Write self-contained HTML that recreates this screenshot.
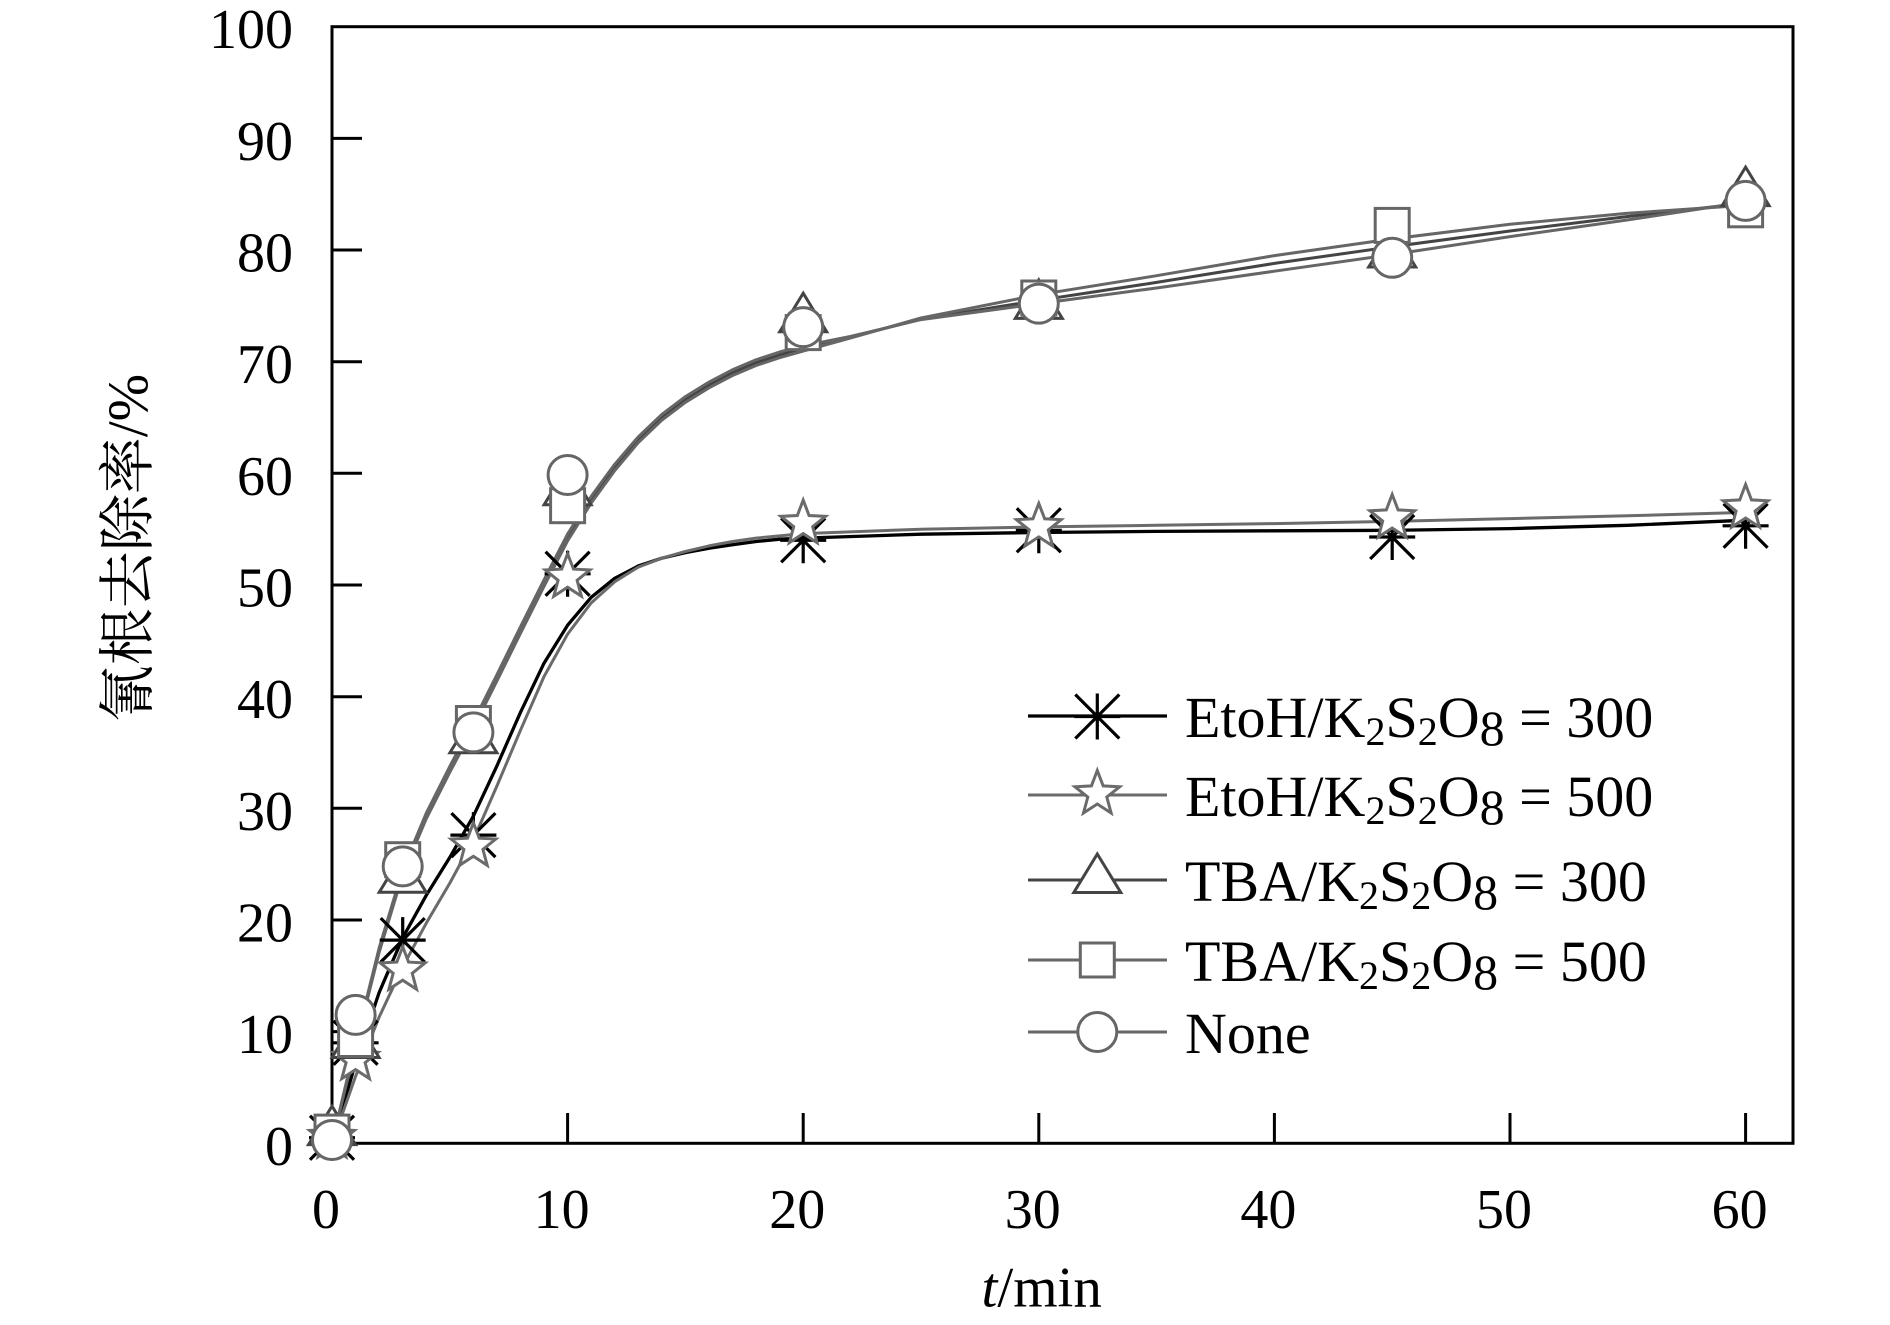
<!DOCTYPE html>
<html>
<head>
<meta charset="utf-8">
<style>
html,body{margin:0;padding:0;background:#fff;}
svg{display:block;}
text{font-family:"Liberation Serif","Noto Serif CJK SC",serif;fill:#000;}
</style>
</head>
<body>
<svg width="1890" height="1325" viewBox="0 0 1890 1325" xmlns="http://www.w3.org/2000/svg">
<defs>
  <g id="ast"><path d="M0,-23V23M-23,0H23M-22,-22L22,22M-22,22L22,-22" stroke="#000" stroke-width="3.2" fill="none"/></g>
  <polygon id="star" points="0,-23.5 5.88,-8.09 22.35,-7.26 9.51,3.09 13.81,19.01 0,10 -13.81,19.01 -9.51,3.09 -22.35,-7.26 -5.88,-8.09" fill="#fff" stroke="#6b6b6b" stroke-width="3"/>
  <polygon id="tri" points="0,-26 23.5,12.5 -23.5,12.5" fill="#fff" stroke="#444" stroke-width="3"/>
  <rect id="sq" x="-17" y="-17" width="34" height="34" fill="#fff" stroke="#666" stroke-width="3"/>
  <circle id="cir" r="19.5" fill="#fff" stroke="#666" stroke-width="3"/>
</defs>

<rect x="0" y="0" width="1890" height="1325" fill="#fff"/>

<!-- frame -->
<rect x="332" y="26.7" width="1461" height="1116.6" fill="none" stroke="#000" stroke-width="3"/>

<!-- y ticks -->
<path d="M332,1031.6H362M332,920H362M332,808.3H362M332,696.7H362M332,585H362M332,473.3H362M332,361.7H362M332,250H362M332,138.4H362" stroke="#000" stroke-width="3"/>
<!-- x ticks -->
<path d="M567.6,1143.3V1113M803.2,1143.3V1113M1038.8,1143.3V1113M1274.4,1143.3V1113M1510,1143.3V1113M1745.6,1143.3V1113" stroke="#000" stroke-width="3"/>

<!-- y tick labels -->
<g font-size="56" text-anchor="end">
  <text x="293" y="1164.8">0</text>
  <text x="293" y="1053.1">10</text>
  <text x="293" y="941.5">20</text>
  <text x="293" y="829.8">30</text>
  <text x="293" y="718.2">40</text>
  <text x="293" y="606.5">50</text>
  <text x="293" y="494.8">60</text>
  <text x="293" y="383.2">70</text>
  <text x="293" y="271.5">80</text>
  <text x="293" y="159.9">90</text>
  <text x="293" y="48.2">100</text>
</g>
<!-- x tick labels -->
<g font-size="56" text-anchor="middle">
  <text x="326" y="1228">0</text>
  <text x="561.6" y="1228">10</text>
  <text x="797.2" y="1228">20</text>
  <text x="1032.8" y="1228">30</text>
  <text x="1268.4" y="1228">40</text>
  <text x="1504" y="1228">50</text>
  <text x="1739.6" y="1228">60</text>
</g>

<!-- axis titles -->
<text x="1041.7" y="1306.7" font-size="57" text-anchor="middle"><tspan font-style="italic">t</tspan>/min</text>
<text transform="translate(147,548) rotate(-90)" font-size="57" text-anchor="middle">氰根去除率/%</text>

<!-- curves -->
<g fill="none" stroke-width="3" stroke-linejoin="round" stroke-linecap="round">
  <polyline stroke="#000" stroke-width="3.3" points="332,1143.3 355.6,1062.9 379.1,992.6 402.7,937.8 426.2,895.4 449.8,857.4 473.4,816.1 496.9,765.9 520.5,712.3 544.0,663.2 567.6,625.2 591.2,597.3 614.7,578.3 638.3,566.0 661.8,558.2 685.4,552.6 709.0,548.2 732.5,544.8 756.1,541.5 779.6,539.2 803.2,538.1 921.0,534.2 1038.8,532.5 1156.6,531.4 1274.4,530.8 1392.2,530.3 1510.0,528.6 1627.8,525.3 1745.6,520.2"/>
  <polyline stroke="#6b6b6b" points="332,1143.3 355.6,1076.3 379.1,1017.1 402.7,966.9 426.2,923.3 449.8,883.1 473.4,839.6 496.9,786.0 520.5,730.2 544.0,676.6 567.6,634.1 591.2,602.9 614.7,581.7 638.3,567.1 661.8,558.2 685.4,551.5 709.0,545.9 732.5,541.5 756.1,538.1 779.6,535.9 803.2,533.6 921.0,529.2 1038.8,526.9 1156.6,525.3 1274.4,523.6 1392.2,521.4 1510.0,518.6 1627.8,515.8 1745.6,512.4"/>
  <polyline stroke="#444" points="332,1143.3 355.6,1045.0 379.1,951.2 402.7,873.1 426.2,817.3 449.8,770.4 473.4,725.7 496.9,678.8 520.5,630.8 544.0,583.9 567.6,538.1 591.2,500.1 614.7,467.8 638.3,439.8 661.8,417.5 685.4,399.6 709.0,385.1 732.5,372.8 756.1,362.8 779.6,355.0 803.2,348.3 850.3,337.1 921.0,319.2 1038.8,300.3 1156.6,282.4 1274.4,263.4 1392.2,246.7 1510.0,231.0 1627.8,216.5 1745.6,203.1"/>
  <polyline stroke="#666" points="332,1143.3 355.6,1046.0 379.1,952.5 402.7,874.5 426.2,818.8 449.8,772.2 473.4,727.8 496.9,681.0 520.5,633.2 544.0,586.3 567.6,540.8 591.2,503.0 614.7,470.6 638.3,442.5 661.8,420.2 685.4,402.3 709.0,387.8 732.5,375.5 756.1,365.5 779.6,357.7 803.2,351.0 850.3,338.0 921.0,318.0 1038.8,294.7 1156.6,275.7 1274.4,255.6 1392.2,238.9 1510.0,224.3 1627.8,213.2 1745.6,205.3"/>
  <polyline stroke="#666" points="332,1143.3 355.6,1043.0 379.1,948.2 402.7,869.6 426.2,813.3 449.8,766.4 473.4,721.7 496.9,674.8 520.5,626.8 544.0,579.9 567.6,534.1 591.2,496.4 614.7,464.3 638.3,436.8 661.8,414.5 685.4,396.6 709.0,382.1 732.5,369.8 756.1,359.8 779.6,352.0 803.2,345.8 850.3,336.5 921.0,319.6 1038.8,303.6 1156.6,288.0 1274.4,271.2 1392.2,254.5 1510.0,236.6 1627.8,219.9 1745.6,202.0"/>
</g>

<!-- markers: EtoH/K2S2O8 = 300 (asterisk) -->
<use href="#ast" x="332" y="1137.7"/>
<use href="#ast" x="355.6" y="1042.8"/>
<use href="#ast" x="402.7" y="940.1"/>
<use href="#ast" x="473.4" y="835.1"/>
<use href="#ast" x="567.6" y="573.8"/>
<use href="#ast" x="803.2" y="540.3"/>
<use href="#ast" x="1038.8" y="530.3"/>
<use href="#ast" x="1392.2" y="537.0"/>
<use href="#ast" x="1745.6" y="525.8"/>

<!-- star -->
<use href="#star" x="332" y="1137.7"/>
<use href="#star" x="355.6" y="1059.6"/>
<use href="#star" x="402.7" y="970.2"/>
<use href="#star" x="473.4" y="846.3"/>
<use href="#star" x="567.6" y="577.2"/>
<use href="#star" x="803.2" y="523.6"/>
<use href="#star" x="1038.8" y="526.9"/>
<use href="#star" x="1392.2" y="518.0"/>
<use href="#star" x="1745.6" y="508.0"/>

<!-- triangle -->
<use href="#tri" x="332" y="1132.1"/>
<use href="#tri" x="355.6" y="1045.0"/>
<use href="#tri" x="402.7" y="879.8"/>
<use href="#tri" x="473.4" y="740.2"/>
<use href="#tri" x="567.6" y="492.3"/>
<use href="#tri" x="803.2" y="319.2"/>
<use href="#tri" x="1038.8" y="305.9"/>
<use href="#tri" x="1392.2" y="254.5"/>
<use href="#tri" x="1745.6" y="193.1"/>

<!-- square -->
<use href="#sq" x="332" y="1132.1"/>
<use href="#sq" x="355.6" y="1039.5"/>
<use href="#sq" x="402.7" y="859.7"/>
<use href="#sq" x="473.4" y="723.5"/>
<use href="#sq" x="567.6" y="505.7"/>
<use href="#sq" x="803.2" y="332.6"/>
<use href="#sq" x="1038.8" y="298.0"/>
<use href="#sq" x="1392.2" y="225.4"/>
<use href="#sq" x="1745.6" y="209.8"/>

<!-- circle -->
<use href="#cir" x="332" y="1140"/>
<use href="#cir" x="355.6" y="1014.9"/>
<use href="#cir" x="402.7" y="866.4"/>
<use href="#cir" x="473.4" y="732.4"/>
<use href="#cir" x="567.6" y="475.0"/>
<use href="#cir" x="803.2" y="327.1"/>
<use href="#cir" x="1038.8" y="303.6"/>
<use href="#cir" x="1392.2" y="257.8"/>
<use href="#cir" x="1745.6" y="200.9"/>

<!-- legend -->
<g stroke-width="3" fill="none">
  <line x1="1028" y1="716" x2="1167" y2="716" stroke="#000" stroke-width="3.3"/>
  <line x1="1028" y1="795" x2="1167" y2="795" stroke="#6b6b6b"/>
  <line x1="1028" y1="880" x2="1167" y2="880" stroke="#444"/>
  <line x1="1028" y1="960" x2="1167" y2="960" stroke="#666"/>
  <line x1="1028" y1="1032" x2="1167" y2="1032" stroke="#666"/>
</g>
<use href="#ast" x="1097.3" y="716.5"/>
<use href="#star" x="1097.3" y="794"/>
<use href="#tri" x="1097.3" y="880"/>
<use href="#sq" x="1097.3" y="960"/>
<use href="#cir" x="1097.3" y="1032"/>

<g font-size="58">
  <text x="1185" y="737">EtoH/K<tspan font-size="40" dy="8">2</tspan><tspan dy="-8">S</tspan><tspan font-size="40" dy="8">2</tspan><tspan dy="-8">O</tspan><tspan font-size="50" dy="8">8</tspan><tspan dy="-8"> = 300</tspan></text>
  <text x="1185" y="816">EtoH/K<tspan font-size="40" dy="8">2</tspan><tspan dy="-8">S</tspan><tspan font-size="40" dy="8">2</tspan><tspan dy="-8">O</tspan><tspan font-size="50" dy="8">8</tspan><tspan dy="-8"> = 500</tspan></text>
  <text x="1185" y="901">TBA/K<tspan font-size="40" dy="8">2</tspan><tspan dy="-8">S</tspan><tspan font-size="40" dy="8">2</tspan><tspan dy="-8">O</tspan><tspan font-size="50" dy="8">8</tspan><tspan dy="-8"> = 300</tspan></text>
  <text x="1185" y="981">TBA/K<tspan font-size="40" dy="8">2</tspan><tspan dy="-8">S</tspan><tspan font-size="40" dy="8">2</tspan><tspan dy="-8">O</tspan><tspan font-size="50" dy="8">8</tspan><tspan dy="-8"> = 500</tspan></text>
  <text x="1185" y="1053">None</text>
</g>
</svg>
</body>
</html>
